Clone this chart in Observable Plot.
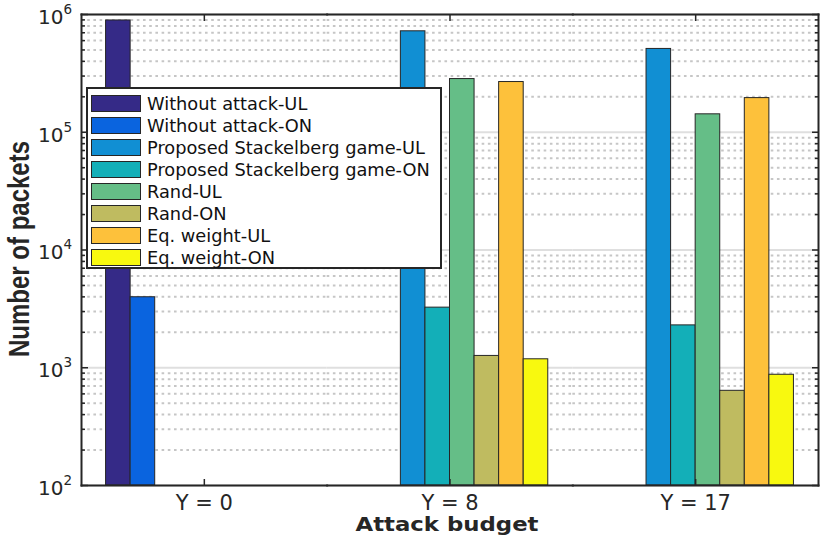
<!DOCTYPE html>
<html>
<head>
<meta charset="utf-8">
<script src="https://cdn.jsdelivr.net/npm/d3@7"></script>
<script src="https://cdn.jsdelivr.net/npm/@observablehq/plot@0.6"></script>
<style>
  body { margin: 0; background: #fff; }
  #wrap { position: relative; width: 830px; height: 545px; font-family: "DejaVu Sans", sans-serif; color: #262626; }
  #wrap svg { position: absolute; left: 0; top: 0; }
  .ylab { position: absolute; left: 19px; top: 249px; white-space: nowrap; line-height: 1;
          font: bold 24px "Liberation Sans", sans-serif; color: #262626;
          transform: translate(-50%, -50%) rotate(-90deg) scaleY(1.2); }
  .xlab { position: absolute; left: 447px; top: 524px; white-space: nowrap; line-height: 1;
          font: bold 20px "DejaVu Sans", sans-serif; color: #262626;
          transform: translate(-50%, -50%) scaleX(1.14); }
  .legend { position: absolute; left: 86px; top: 87px; width: 349px; height: 175px;
            border: 2.5px solid #262626; background: #fff; padding: 3px 0 0 3px; box-sizing: content-box; }
  .legend .row { display: flex; align-items: center; height: 22px; }
  .legend .sw { width: 48px; height: 15px; border: 1px solid #262626; margin-right: 6px; flex: none; }
  .legend .tx { font: 17.8px "DejaVu Sans", sans-serif; color: #111; white-space: nowrap; }
</style>
</head>
<body>
<div id="wrap"></div>
<script>
// ---- data ----
const groups = ["Y = 0", "Y = 8", "Y = 17"];
const series = [
  "Without attack-UL",
  "Without attack-ON",
  "Proposed Stackelberg game-UL",
  "Proposed Stackelberg game-ON",
  "Rand-UL",
  "Rand-ON",
  "Eq. weight-UL",
  "Eq. weight-ON"
];
const colors = ["#352a87", "#0a64df", "#118fd3", "#13afb8", "#65be87", "#bfbb60", "#fdc13b", "#f8f90f"];

const withoutAttackUL = [890000, null, null];
const withoutAttackON = [3970, null, null];
const stackelbergUL   = [null, 720000, 510000];
const stackelbergON   = [null, 3240, 2290];
const randUL          = [null, 283000, 142000];
const randON          = [null, 1260, 637];
const eqWeightUL      = [null, 267000, 195000];
const eqWeightON      = [null, 1180, 872];

const majorTicks = [1e2, 1e3, 1e4, 1e5, 1e6];
const minorMultipliers = [2, 3, 4, 5, 6, 7, 8, 9];
const yExponents = ["2", "3", "4", "5", "6"];

// ---- build table ----
const seriesValues = [withoutAttackUL, withoutAttackON, stackelbergUL, stackelbergON, randUL, randON, eqWeightUL, eqWeightON];
const rows = [];
seriesValues.forEach((vals, si) => {
  vals.forEach((v, gi) => {
    if (v != null) rows.push({group: groups[gi], series: series[si], value: v});
  });
});
const minorTicks = majorTicks.slice(0, -1).flatMap(t => minorMultipliers.map(m => t * m));
const yMin = majorTicks[0];

const ink = "#262626";

const chart = Plot.plot({
  width: 830,
  height: 545,
  marginLeft: 81,
  marginRight: 12,
  marginTop: 14,
  marginBottom: 60,
  style: {fontFamily: "DejaVu Sans, sans-serif", color: ink, background: "transparent"},
  fx: {domain: groups, padding: 0, round: false},
  x: {domain: series, paddingInner: 0, paddingOuter: 1, round: false, axis: null},
  y: {type: "log", domain: [majorTicks[0], majorTicks[majorTicks.length - 1]]},
  color: {domain: series, range: colors},
  marks: [
    Plot.gridY(minorTicks, {stroke: "#c6c6c6", strokeOpacity: 1, strokeWidth: 2, strokeDasharray: "2.6,3.6"}),
    Plot.gridY(majorTicks, {stroke: "#dfdfdf", strokeOpacity: 1, strokeWidth: 2}),
    Plot.barY(rows, {fx: "group", x: "series", y1: yMin, y2: "value", fill: "series", stroke: ink, strokeWidth: 1, inset: 0}),
    Plot.frame({anchor: "top", stroke: ink, strokeWidth: 2}),
    Plot.frame({anchor: "bottom", stroke: ink, strokeWidth: 2}),
    Plot.frame({anchor: "left", facetAnchor: "left", stroke: ink, strokeWidth: 2}),
    Plot.frame({anchor: "right", facetAnchor: "right", stroke: ink, strokeWidth: 2}),
    // inward tick marks
    Plot.axisY({anchor: "left", ticks: majorTicks, tickSize: 7, dx: 7, fill: "none", label: null, stroke: ink, strokeWidth: 1.5}),
    Plot.axisY({anchor: "left", ticks: minorTicks, tickSize: 4, dx: 4, fill: "none", label: null, stroke: ink, strokeWidth: 1.5}),
    Plot.axisY({anchor: "right", ticks: majorTicks, tickSize: 7, dx: -7, fill: "none", label: null, stroke: ink, strokeWidth: 1.5}),
    Plot.axisY({anchor: "right", ticks: minorTicks, tickSize: 4, dx: -4, fill: "none", label: null, stroke: ink, strokeWidth: 1.5}),
    Plot.axisFx({anchor: "bottom", tickSize: 6, dy: -6, fill: "none", label: null, stroke: ink, strokeWidth: 1.5}),
    Plot.axisFx({anchor: "top", tickSize: 6, dy: 6, fill: "none", label: null, stroke: ink, strokeWidth: 1.5}),
    // tick labels
    Plot.axisY({anchor: "left", ticks: majorTicks, tickSize: 0, tickPadding: 18, dy: 3, tickFormat: () => "10", fontSize: 20, label: null, fill: ink}),
    Plot.axisY({anchor: "left", ticks: majorTicks, tickSize: 0, tickPadding: 18, textAnchor: "start", dy: -5,
                tickFormat: (d) => yExponents[majorTicks.indexOf(d)], fontSize: 13.5, label: null, fill: ink}),
    Plot.axisFx({anchor: "bottom", tickSize: 0, tickPadding: 10, fontSize: 21, label: null, fill: ink})
  ]
});

const wrap = d3.select("#wrap");
wrap.node().appendChild(chart);
wrap.append("div").attr("class", "ylab").text("Number of packets");
wrap.append("div").attr("class", "xlab").text("Attack budget");
const legend = wrap.append("div").attr("class", "legend");
series.forEach((s, i) => {
  const r = legend.append("div").attr("class", "row");
  r.append("div").attr("class", "sw").style("background", colors[i]);
  r.append("div").attr("class", "tx").text(s);
});
</script>
</body>
</html>
